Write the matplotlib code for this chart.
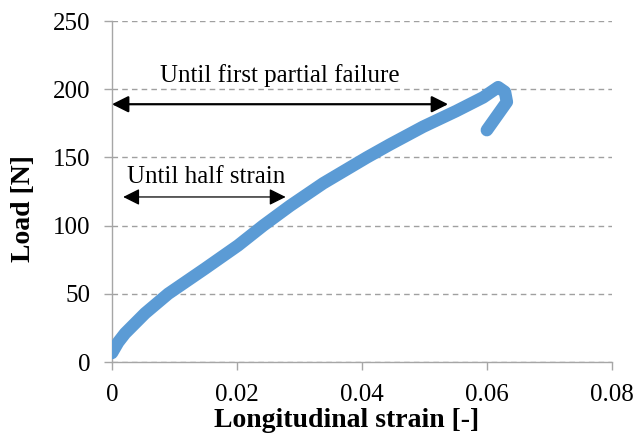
import matplotlib
matplotlib.use('Agg')
import matplotlib.pyplot as plt

# Load-strain curve
strain = [0, 0.0010, 0.0021, 0.0053, 0.009, 0.0149, 0.0202, 0.0242, 0.0285, 0.0338,
          0.0408, 0.0445, 0.0498, 0.0551, 0.0594, 0.0618, 0.0629, 0.0632, 0.0600]
load = [6.6, 14.5, 21, 35.7, 50, 68.5, 85.5, 100, 114.5, 131,
        150, 159.5, 172.5, 184, 194, 201.5, 198, 190.7, 170]

x_ticks = [0, 0.02, 0.04, 0.06, 0.08]
x_tick_labels = ['0', '0.02', '0.04', '0.06', '0.08']
y_ticks = [0, 50, 100, 150, 200, 250]

# annotation arrows: (x start, x end, y), label position
failure_arrow = (0.0, 0.0538, 189)
failure_text = (0.0268, 205, 'Until first partial failure')
half_arrow = (0.0018, 0.0278, 121)
half_text = (0.0150, 131, 'Until half strain')

plt.rcParams['font.family'] = ['Liberation Serif', 'DejaVu Serif']

fig = plt.figure(figsize=(6.36, 4.38), dpi=100)
ax = fig.add_axes([0.176, 0.1735, 0.786, 0.7785])

ax.plot(strain, load, color='#5B9BD5', lw=9, solid_capstyle='round',
        solid_joinstyle='round', zorder=3)

ax.set_xlim(0, 0.08)
ax.set_ylim(0, 250)
ax.set_xticks(x_ticks)
ax.set_xticklabels(x_tick_labels)
ax.set_yticks(y_ticks)

ax.grid(axis='y', color='#A0A0A0', linestyle=(0, (4, 3)), lw=1.0)
ax.set_axisbelow(True)
for side in ['top', 'right']:
    ax.spines[side].set_visible(False)
for side in ['left', 'bottom']:
    ax.spines[side].set_color('#A6A6A6')
    ax.spines[side].set_linewidth(1.0)
ax.tick_params(axis='both', colors='#A6A6A6', labelcolor='black',
               labelsize=18, length=5.5, width=1.0, pad=10)

ax.set_xlabel('Longitudinal strain [-]', fontsize=20, fontweight='bold')
ax.set_ylabel('Load [N]', fontsize=20, fontweight='bold')
ax.xaxis.set_label_coords(0.47, -0.136)
ax.yaxis.set_label_coords(-0.152, 0.449)

x0, x1, y = failure_arrow
ax.annotate('', xy=(x0, y), xytext=(x1, y),
            arrowprops=dict(arrowstyle='<|-|>', color='black', lw=1.6,
                            mutation_scale=25, shrinkA=0, shrinkB=0))
ax.text(failure_text[0], failure_text[1], failure_text[2], fontsize=18,
        ha='center', va='baseline')

x0, x1, y = half_arrow
ax.annotate('', xy=(x0, y), xytext=(x1, y),
            arrowprops=dict(arrowstyle='<|-|>', color='black', lw=0.9,
                            mutation_scale=25, shrinkA=0, shrinkB=0))
ax.text(half_text[0], half_text[1], half_text[2], fontsize=18,
        ha='center', va='baseline')

fig.savefig('out.png', dpi=100)
